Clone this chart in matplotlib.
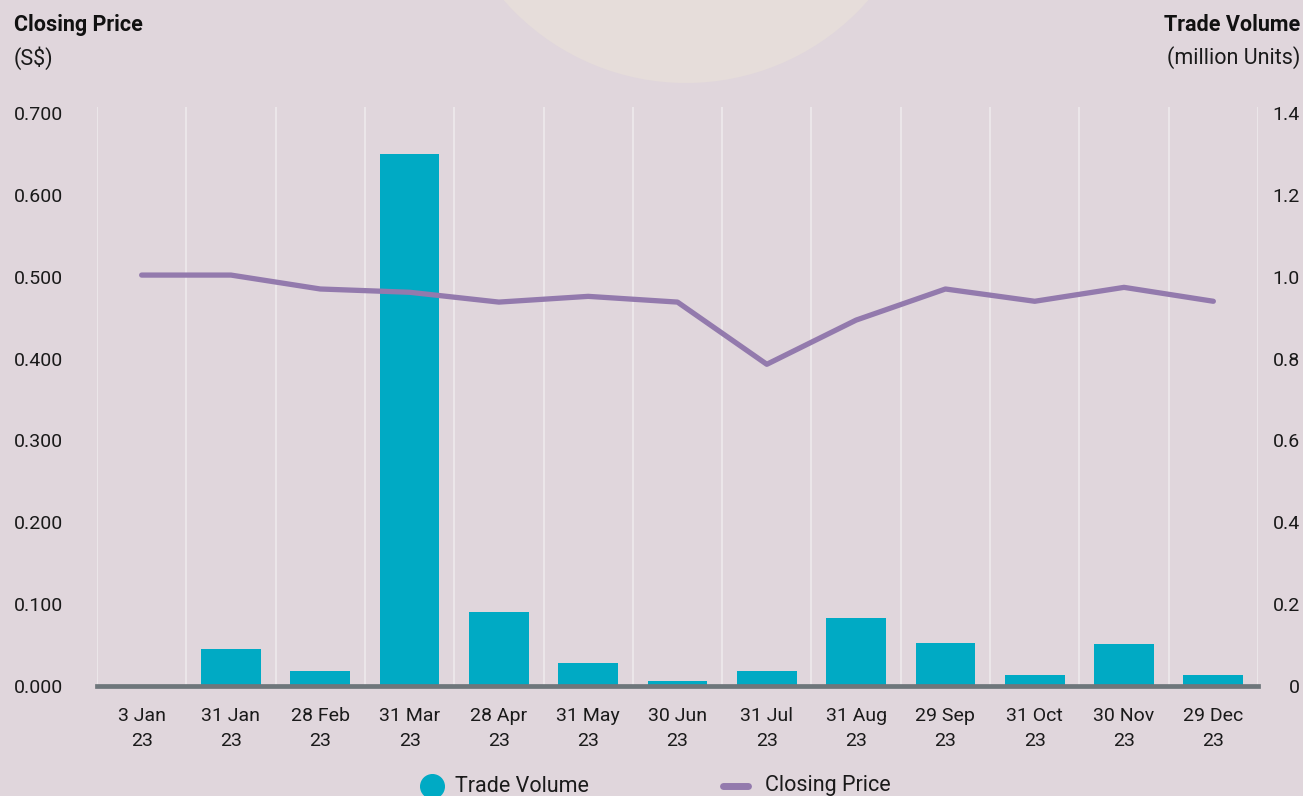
import matplotlib
matplotlib.use('Agg')
import matplotlib.pyplot as plt
from matplotlib.lines import Line2D
from matplotlib.patches import Circle

# data
dates = ['3 Jan\n23', '31 Jan\n23', '28 Feb\n23', '31 Mar\n23', '28 Apr\n23', '31 May\n23',
         '30 Jun\n23', '31 Jul\n23', '31 Aug\n23', '29 Sep\n23', '31 Oct\n23', '30 Nov\n23',
         '29 Dec\n23']
closing_price = [0.502, 0.502, 0.485, 0.481, 0.469, 0.476, 0.469, 0.393, 0.447, 0.485,
                 0.470, 0.487, 0.470]
trade_volume = [0.0, 0.091, 0.037, 1.30, 0.181, 0.056, 0.012, 0.037, 0.166, 0.105,
                0.027, 0.103, 0.027]
price_ticks = [0.0, 0.1, 0.2, 0.3, 0.4, 0.5, 0.6, 0.7]
price_labels = ['0.000', '0.100', '0.200', '0.300', '0.400', '0.500', '0.600', '0.700']
volume_ticks = [0.0, 0.2, 0.4, 0.6, 0.8, 1.0, 1.2, 1.4]
volume_labels = ['0', '0.2', '0.4', '0.6', '0.8', '1.0', '1.2', '1.4']

bg = '#e0d6dc'
teal = '#00aac4'
purple = '#937aad'
axis_grey = '#6e767b'
ink = '#1a1a1a'

plt.rcParams['font.family'] = ['Roboto', 'DejaVu Sans']
fs = 14          # tick labels
fs_head = 15.5   # axis headers and legend

W, H = 1303, 796
fig = plt.figure(figsize=(W / 100, H / 100), dpi=100, facecolor=bg)

# decorative pale circle at the top
fig.patches.append(Circle((6.86, (H + 159) / 100), 2.42, transform=fig.dpi_scale_trans,
                          facecolor='#e6ddda', edgecolor='none', zorder=0))

left, right = 97 / W, 1258 / W
bottom, top = 1 - 686 / H, 1 - 107 / H
ax2 = fig.add_axes([left, bottom, right - left, top - bottom])   # volume (bars, right)
ax = ax2.twinx()                                                  # price (line, left)
ax.set_zorder(ax2.get_zorder() + 1)
ax.patch.set_visible(False)
ax2.patch.set_visible(False)

x = list(range(len(dates)))
ax2.bar(x, trade_volume, width=0.67, color=teal, zorder=2)
ax.plot(x, closing_price, color=purple, lw=3.8, solid_capstyle='round',
        solid_joinstyle='round', zorder=3)

ytop = 0.7 * 579 / 573
ax.set_ylim(0, ytop)
ax2.set_ylim(0, ytop * 2)
ax2.set_xlim(-0.5, len(dates) - 0.5)

# vertical grid at the category boundaries
ax2.set_xticks([i - 0.5 for i in range(len(dates) + 1)], minor=True)
ax2.grid(axis='x', which='minor', color='#eeeaec', lw=1.2, zorder=0)
ax2.set_xticks(x)
ax2.set_xticklabels(dates, fontsize=fs, linespacing=1.5, color=ink)
ax2.tick_params(axis='x', which='both', length=0, pad=15)

# price labels on the left, volume labels on the right
ax.yaxis.tick_left()
ax.set_yticks(price_ticks)
ax.set_yticklabels(price_labels, fontsize=fs, color=ink, ha='left')
ax.tick_params(axis='y', length=0, pad=(97 - 14) * 0.72)

ax2.yaxis.tick_right()
ax2.set_yticks(volume_ticks)
ax2.set_yticklabels(volume_labels, fontsize=fs, color=ink, ha='right')
ax2.tick_params(axis='y', length=0, pad=(1300 - 1258) * 0.72)

for a in (ax, ax2):
    for s in a.spines.values():
        s.set_visible(False)
ax.spines['bottom'].set_visible(True)
ax.spines['bottom'].set_color(axis_grey)
ax.spines['bottom'].set_linewidth(3.4)

fig.text(14 / W, 1 - 25 / H, 'Closing Price', fontsize=fs_head, fontweight='bold',
         ha='left', va='center', color='#111111')
fig.text(14 / W, 1 - 58 / H, '(S$)', fontsize=fs_head, ha='left', va='center', color=ink)
fig.text(1300 / W, 1 - 25 / H, 'Trade Volume', fontsize=fs_head, fontweight='bold',
         ha='right', va='center', color='#111111')
fig.text(1300 / W, 1 - 58 / H, '(million Units)', fontsize=fs_head, ha='right',
         va='center', color=ink)

# legend along the bottom edge
ly = 1 - 786 / H
fig.add_artist(Line2D([432 / W], [ly], marker='o', ls='none', markersize=17, color=teal,
                      transform=fig.transFigure))
fig.text(455 / W, ly, 'Trade Volume', fontsize=fs_head, ha='left', va='center', color=ink)
fig.add_artist(Line2D([723 / W, 748 / W], [ly, ly], color=purple, lw=5,
                      solid_capstyle='round', transform=fig.transFigure))
fig.text(765 / W, ly, 'Closing Price', fontsize=fs_head, ha='left', va='center', color=ink)

fig.savefig('out.png', dpi=100, facecolor=bg)
